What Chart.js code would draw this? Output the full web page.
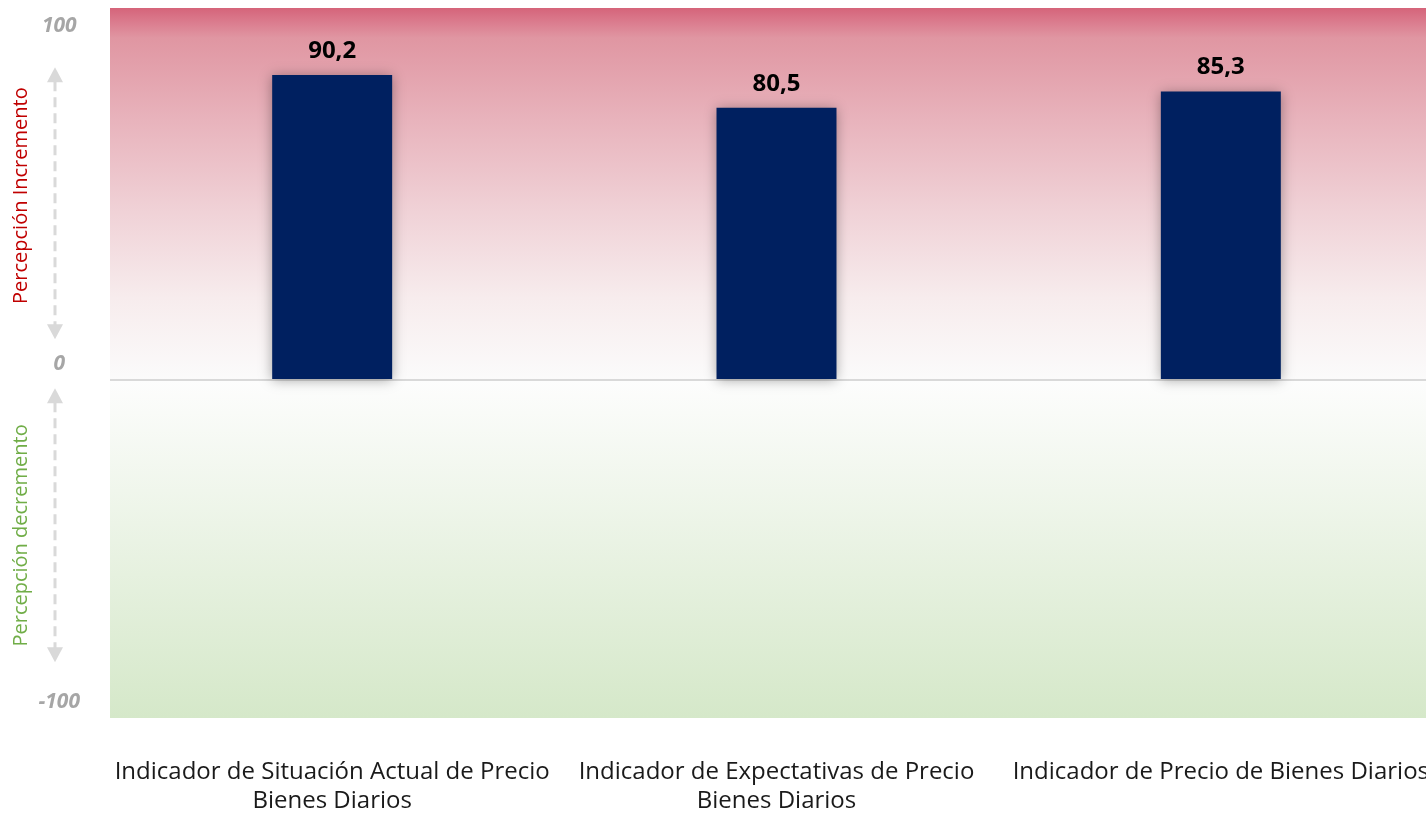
<!DOCTYPE html>
<html>
<head>
<meta charset="utf-8">
<script src="https://cdn.jsdelivr.net/npm/chart.js@4.4.1/dist/chart.umd.min.js"></script>
<style>
  html, body { margin: 0; padding: 0; background: #fff; overflow: hidden; }
  #wrap { width: 1444px; height: 813px; }
</style>
</head>
<body>
<div id="wrap"><canvas id="chart"></canvas></div>
<script>
  const categorias = [
    ['Indicador de Situación Actual de Precio', 'Bienes Diarios'],
    ['Indicador de Expectativas de Precio', 'Bienes Diarios'],
    'Indicador de Precio de Bienes Diarios'
  ];
  const valores = [90.2, 80.5, 85.3];
  const yTicks = [-100, 0, 100];
  const yMin = -100;
  const yMax = 110;

  const FONT = '"Open Sans", "Noto Sans", sans-serif';
  const fmtDec = v => v.toFixed(1).replace('.', ',');

  // fondo degradado: rojo arriba, verde abajo
  const fondo = {
    id: 'fondo',
    beforeDraw(chart) {
      const { ctx, chartArea: a, scales: { y } } = chart;
      const y0 = y.getPixelForValue(0);
      ctx.save();
      let g = ctx.createLinearGradient(0, a.top, 0, y0);
      g.addColorStop(0, '#d5647a');
      g.addColorStop(0.04, '#db7d8f');
      g.addColorStop(0.08, '#e096a2');
      g.addColorStop(0.3, '#e8b3bc');
      g.addColorStop(0.55, '#f0d2d7');
      g.addColorStop(0.78, '#f7eced');
      g.addColorStop(1, '#fbfbfb');
      ctx.fillStyle = g;
      ctx.fillRect(a.left, a.top, a.right - a.left, y0 - a.top);
      g = ctx.createLinearGradient(0, y0, 0, a.bottom);
      g.addColorStop(0, '#fdfdfd');
      g.addColorStop(1, '#d5e8c9');
      ctx.fillStyle = g;
      ctx.fillRect(a.left, y0, a.right - a.left, a.bottom - y0);
      ctx.restore();
    }
  };

  // sombra suave de las barras
  const sombra = {
    id: 'sombra',
    beforeDatasetDraw(chart) {
      const ctx = chart.ctx;
      ctx.save();
      ctx.shadowColor = 'rgba(0,0,0,0.35)';
      ctx.shadowBlur = 12;
      ctx.shadowOffsetY = 1;
    },
    afterDatasetDraw(chart) { chart.ctx.restore(); }
  };

  const etiquetas = {
    id: 'etiquetas',
    afterDatasetsDraw(chart) {
      const { ctx } = chart;
      const meta = chart.getDatasetMeta(0);
      ctx.save();
      ctx.font = 'bold 24px ' + FONT;
      ctx.fillStyle = '#000';
      ctx.textAlign = 'center';
      ctx.textBaseline = 'middle';
      meta.data.forEach((bar, i) => {
        ctx.fillText(fmtDec(valores[i]), bar.x, bar.y - 24);
      });
      ctx.restore();
    }
  };

  // textos laterales con flechas punteadas
  const lateral = {
    id: 'lateral',
    afterDraw(chart) {
      const { ctx, scales: { y } } = chart;
      function flecha(x, y1, y2) {
        ctx.strokeStyle = '#d9d9d9';
        ctx.fillStyle = '#d9d9d9';
        ctx.lineWidth = 3;
        ctx.setLineDash([10, 6]);
        ctx.beginPath();
        ctx.moveTo(x, y1 + 14);
        ctx.lineTo(x, y2 - 14);
        ctx.stroke();
        ctx.setLineDash([]);
        ctx.beginPath();
        ctx.moveTo(x, y1); ctx.lineTo(x - 8, y1 + 15); ctx.lineTo(x + 8, y1 + 15); ctx.closePath(); ctx.fill();
        ctx.beginPath();
        ctx.moveTo(x, y2); ctx.lineTo(x - 8, y2 - 15); ctx.lineTo(x + 8, y2 - 15); ctx.closePath(); ctx.fill();
      }
      function texto(t, color, yc) {
        ctx.save();
        ctx.translate(21, yc);
        ctx.rotate(-Math.PI / 2);
        ctx.font = '20px ' + FONT;
        ctx.fillStyle = color;
        ctx.textAlign = 'center';
        ctx.textBaseline = 'middle';
        ctx.fillText(t, 0, 0);
        ctx.restore();
      }
      ctx.save();
      flecha(55, y.getPixelForValue(92.5), y.getPixelForValue(12));
      flecha(55, y.getPixelForValue(-2.5), y.getPixelForValue(-83.5));
      texto('Percepción Incremento', '#c00000', y.getPixelForValue(54.5));
      texto('Percepción decremento', '#70ad47', y.getPixelForValue(-46));
      ctx.restore();
    }
  };

  new Chart(document.getElementById('chart'), {
    type: 'bar',
    data: {
      labels: categorias,
      datasets: [{
        data: valores,
        backgroundColor: '#002060',
        borderWidth: 0,
        barPercentage: 0.27,
        categoryPercentage: 1
      }]
    },
    options: {
      responsive: true,
      maintainAspectRatio: false,
      animation: false,
      layout: { padding: { top: 8, right: 1, left: 0, bottom: 0 } },
      plugins: { legend: { display: false }, tooltip: { enabled: false } },
      scales: {
        x: {
          grid: { display: false, drawTicks: false },
          border: { display: false },
          ticks: {
            color: '#1a1a1a',
            padding: 40,
            maxRotation: 0,
            autoSkip: false,
            font: { family: FONT, size: 24, lineHeight: 1.21 }
          },
          afterFit: s => { s.height = 95; s.paddingLeft = 0; s.paddingRight = 0; }
        },
        y: {
          min: yMin,
          max: yMax,
          afterBuildTicks: s => { s.ticks = yTicks.map(v => ({ value: v })); },
          grid: {
            drawTicks: false,
            lineWidth: 2,
            color: c => (c.tick && c.tick.value === 0) ? '#d9d9d9' : 'rgba(0,0,0,0)'
          },
          border: { display: false },
          ticks: {
            color: '#a6a6a6',
            padding: 30,
            crossAlign: 'center',
            labelOffset: -16,
            font: { family: FONT, size: 21, weight: 'bold', style: 'italic' }
          },
          afterFit: s => { s.width = 110; s.paddingTop = 0; s.paddingBottom = 0; }
        }
      }
    },
    plugins: [fondo, sombra, etiquetas, lateral]
  });
</script>
</body>
</html>
